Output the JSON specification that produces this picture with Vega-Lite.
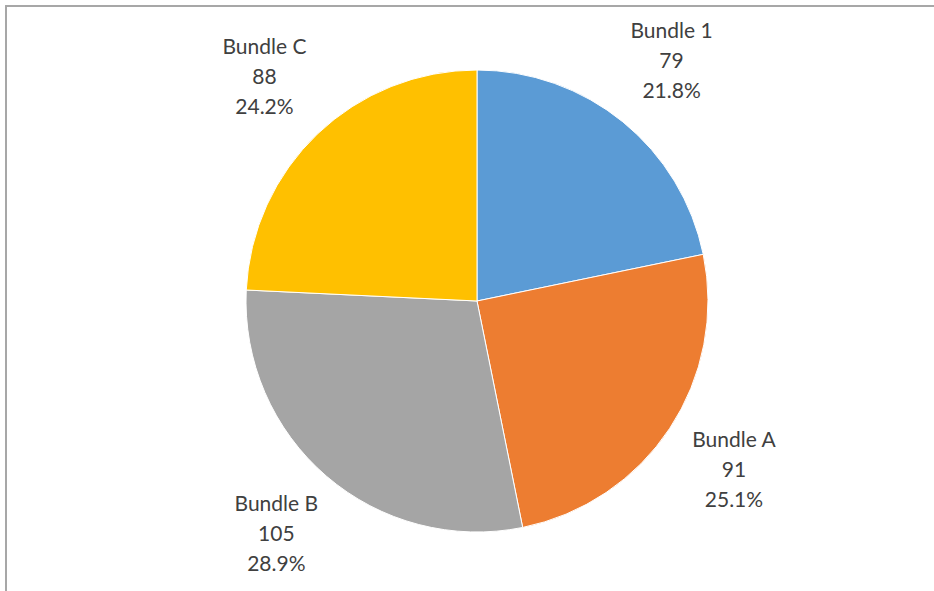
{
  "$schema": "https://vega.github.io/schema/vega-lite/v6.json",
  "width": 942,
  "height": 590,
  "padding": {"left": 6, "top": 6, "right": 0, "bottom": 0},
  "autosize": "none",
  "background": "white",
  "config": {"view": {"stroke": null}},
  "data": {
    "values": [
      {"bundle": "Bundle 1", "count": 79},
      {"bundle": "Bundle A", "count": 91},
      {"bundle": "Bundle B", "count": 105},
      {"bundle": "Bundle C", "count": 88}
    ]
  },
  "transform": [
    {"joinaggregate": [{"op": "sum", "field": "count", "as": "total"}]},
    {"calculate": "datum.bundle + '\\n' + datum.count + '\\n' + format(datum.count / datum.total, '.1%')", "as": "label"}
  ],
  "layer": [
    {
      "mark": {"type": "rect", "fill": null, "stroke": "#a6a6a6", "strokeWidth": 1.5},
      "encoding": {}
    },
    {
      "mark": {"type": "arc", "outerRadius": 231, "stroke": "white", "strokeWidth": 1},
      "encoding": {
        "theta": {"field": "count", "type": "quantitative", "stack": true},
        "order": {"field": "bundle", "type": "nominal", "sort": "ascending"},
        "color": {
          "field": "bundle",
          "type": "nominal",
          "scale": {
            "domain": ["Bundle 1", "Bundle A", "Bundle B", "Bundle C"],
            "range": ["#5B9BD5", "#ED7D31", "#A5A5A5", "#FFC000"]
          },
          "legend": null
        }
      }
    },
    {
      "mark": {
        "type": "text",
        "radius": 308,
        "dy": -30,
        "lineBreak": "\n",
        "lineHeight": 30,
        "font": "Lato",
        "fontSize": 21,
        "color": "#404040",
        "align": "center",
        "baseline": "middle"
      },
      "encoding": {
        "theta": {"field": "count", "type": "quantitative", "stack": true},
        "order": {"field": "bundle", "type": "nominal", "sort": "ascending"},
        "text": {"field": "label", "type": "nominal"}
      }
    }
  ]
}
